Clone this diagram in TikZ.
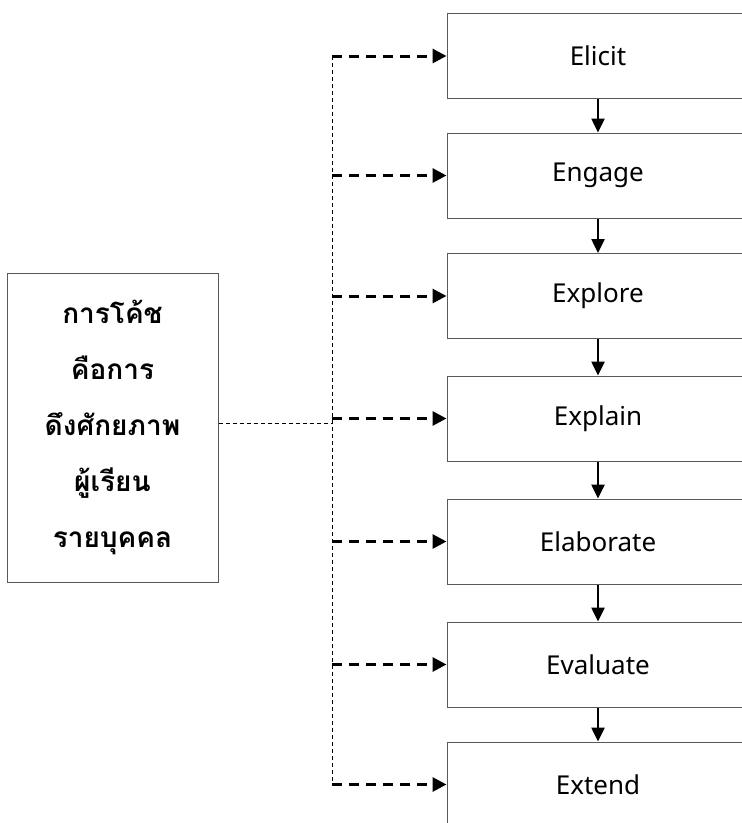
\documentclass[tikz,border=0pt]{standalone}
\usepackage{fontspec}
\setmainfont{Noto Sans}
\newfontfamily\thaifont[Script=Thai]{Loma}
\usetikzlibrary{arrows.meta,calc}
\tikzset{
  stagebox/.style={draw=black!65, line width=1pt, minimum width=302pt, minimum height=85pt, inner sep=0pt, font=\fontsize{26}{30}\selectfont},
  leftbox/.style={draw=black!65, line width=1pt, minimum width=211pt, minimum height=309pt, inner sep=0pt, align=center, font=\thaifont\bfseries\fontsize{28}{56}\selectfont},
  thindash/.style={line width=0.8pt, dash pattern=on 4pt off 3pt},
  thickdash/.style={line width=3pt, dash pattern=on 10pt off 7pt, -{Triangle[length=14pt,width=14pt]}},
  downarrow/.style={line width=2.5pt, -{Triangle[length=14pt,width=13pt]}}
}
\begin{document}
\begin{tikzpicture}[x=1pt,y=-1pt]
\useasboundingbox (0,0) rectangle (742,823);
\clip (0,0) rectangle (742,823);
\node[stagebox] (elicit) at (598,56) {Elicit};
\node[stagebox] (engage) at (598,175.5) {Engage};
\node[stagebox] (explore) at (598,296) {Explore};
\node[stagebox] (explain) at (598,418.5) {Explain};
\node[stagebox] (elaborate) at (598,541.5) {Elaborate};
\node[stagebox] (evaluate) at (598,664.5) {Evaluate};
\node[stagebox] (extend) at (598,784.5) {Extend};
\node[leftbox] (left) at (112.5,427.5) {การโค้ช\\คือการ\\ดึงศักยภาพ\\ผู้เรียน\\รายบุคคล};
\coordinate (vline) at (332,423);
\draw[thindash] (left.east |- vline) -- (vline);
\draw[thindash] (vline |- elicit.west) -- (vline |- extend.west);
\foreach \n in {elicit,engage,explore,explain,elaborate,evaluate,extend}{
  \draw[thickdash] (vline |- \n.west) -- (\n.west);
}
\draw[downarrow] (elicit.south) -- (engage.north);
\draw[downarrow] (engage.south) -- (explore.north);
\draw[downarrow] (explore.south) -- (explain.north);
\draw[downarrow] (explain.south) -- (elaborate.north);
\draw[downarrow] (elaborate.south) -- (evaluate.north);
\draw[downarrow] (evaluate.south) -- (extend.north);
\end{tikzpicture}
\end{document}
